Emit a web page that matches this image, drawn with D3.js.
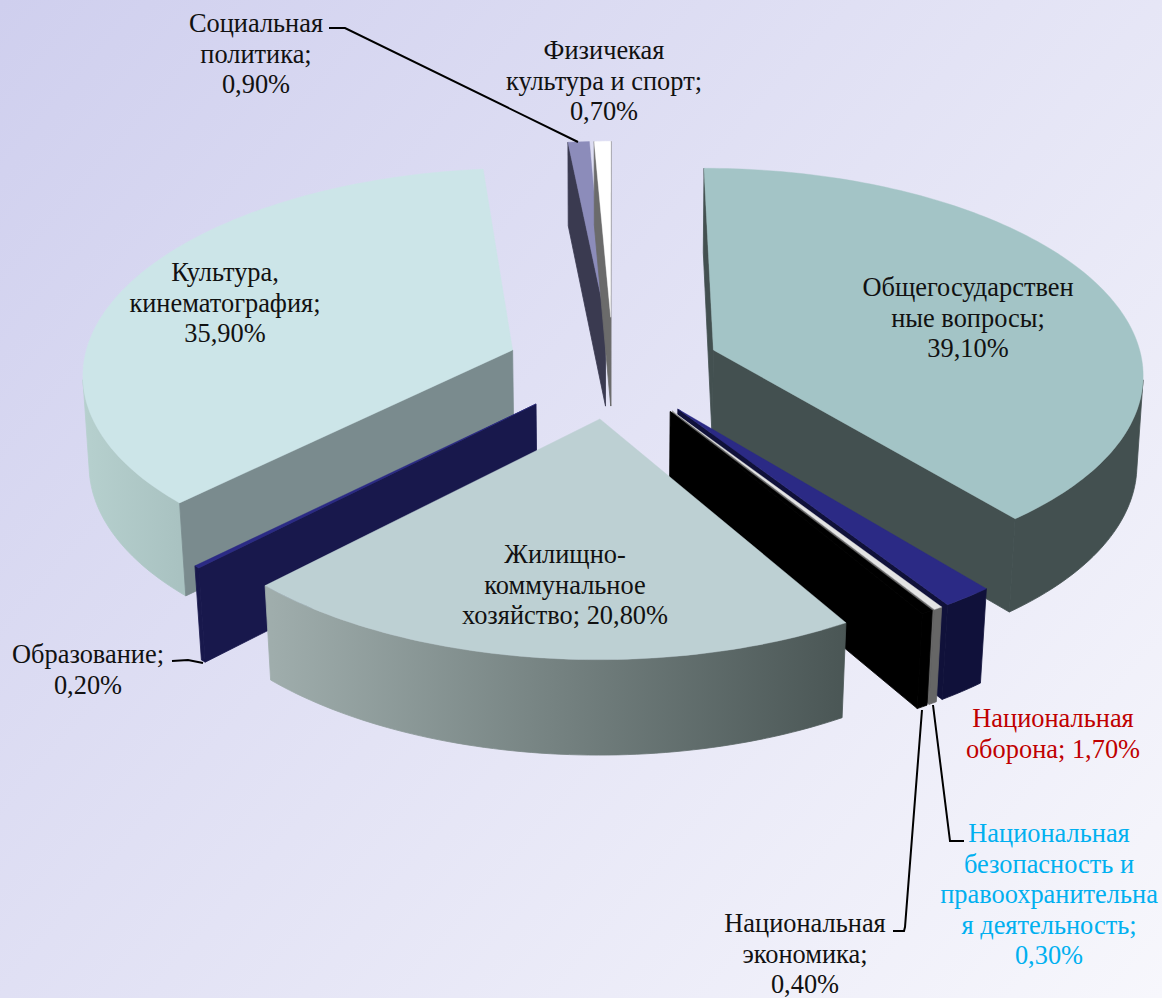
<!DOCTYPE html>
<html lang="ru">
<head>
<meta charset="utf-8">
<script src="https://cdn.jsdelivr.net/npm/d3@7"></script>
<style>
html,body{margin:0;padding:0;background:#fff}
svg{display:block}
text{font-family:"Liberation Serif","Times New Roman",serif;font-size:26.4px;text-anchor:middle}
</style>
</head>
<body>
<svg id="chart" width="1162" height="998"></svg>
<script>
// ---- data, clockwise from 12 o'clock ----
const categories = ["Общегосударственные вопросы","Национальная оборона","Национальная безопасность и правоохранительная деятельность","Национальная экономика","Жилищно-коммунальное хозяйство","Образование","Культура, кинематография","Социальная политика","Физичекая культура и спорт"];
const values = [39.1,1.7,0.3,0.4,20.8,0.2,35.9,0.9,0.7];
const topColors = ["#a3c4c6","#2b2a85","#e4e4e4","#000000","#bdd0d3","#2b2a85","#cce5e8","#8c8cba","#ffffff"];
const sideColors = ["#435050","#10113a","#666666","#000000","#7a8a8a","#18184c","#7a8b8e","#3a3a50","#6b6b6b"];
const arcColorsFrom = ["#435050","#10113a","#666666","#000000","#a0aead","#18184c","#b6d0ce","#3a3a50","#6b6b6b"];
const arcColorsTo = ["#435050","#10113a","#666666","#000000","#4a5655","#18184c","#a9c2c1","#3a3a50","#6b6b6b"];
const paintOrder = [7,8,0,6,1,5,2,3,4];
const labelLines = [
  ["Общегосударствен","ные вопросы;","39,10%"],
  ["Национальная","оборона; 1,70%"],
  ["Национальная","безопасность и","правоохранительна","я деятельность;","0,30%"],
  ["Национальная","экономика;","0,40%"],
  ["Жилищно-","коммунальное","хозяйство; 20,80%"],
  ["Образование;","0,20%"],
  ["Культура,","кинематография;","35,90%"],
  ["Социальная","политика;","0,90%"],
  ["Физичекая","культура и спорт;","0,70%"]
];
const labelColors = ["#111","#c00000","#00b0f0","#111","#111","#111","#111","#111","#111"];
const labelAnchors = [[968,296],[1053,727],[1049,842],[805,932],[565,563],[88,663],[225,281],[256,32],[604,59]];
const leaders = [
  [[329,28],[345,28],[578,142]],
  [[172,661],[188,660],[203,663]],
  [[964,841],[950,841],[933,705]],
  [[893,931],[904,931],[905,927],[922,710]]
];

// ---- projection of the tilted, exploded pie ----
const explode = 0.25;
const topPlane = {x0:613,y0:367,a:430,b:204,k:0.104};
const botPlane = {x0:613,y0:457,a:425,b:209,k:0.10};
const project = (u,v,pl)=>{const w=1+pl.k*v;return [pl.x0+pl.a*u/w, pl.y0-pl.b*v/w];};
const camV = -1/topPlane.k;

const svg = d3.select("#chart");
const defs = svg.append("defs");
const bg = defs.append("linearGradient").attr("id","bg").attr("gradientUnits","userSpaceOnUse")
  .attr("x1",0).attr("y1",0).attr("x2",1162).attr("y2",998);
bg.append("stop").attr("offset",0).attr("stop-color","#cfcfee");
bg.append("stop").attr("offset",1).attr("stop-color","#f7f7fc");
svg.append("rect").attr("width",1162).attr("height",998).attr("fill","url(#bg)");

const slices = d3.pie().sort(null).value(d=>d)(values);
const line = d3.line().curve(d3.curveLinearClosed);

paintOrder.forEach(i=>{
  const s = slices[i];
  const mid = (s.startAngle+s.endAngle)/2;
  const cu = explode*Math.sin(mid), cv = explode*Math.cos(mid);
  const n = Math.max(2,Math.ceil((s.endAngle-s.startAngle)/0.02));
  const ang = d3.range(n+1).map(j=>s.startAngle+(s.endAngle-s.startAngle)*j/n);
  const rim = pl=>ang.map(t=>project(cu+Math.sin(t),cv+Math.cos(t),pl));
  const apexT = project(cu,cv,topPlane), apexB = project(cu,cv,botPlane);
  const rimT = rim(topPlane), rimB = rim(botPlane);
  const g = svg.append("g");

  // curved outer wall, only the part turned towards the viewer
  const vis = ang.map(t=>{
    const pu=cu+Math.sin(t), pv=cv+Math.cos(t);
    return Math.sin(t)*(0-pu)+Math.cos(t)*(camV-pv)>0;
  });
  const xs = rimT.filter((p,j)=>vis[j]).map(p=>p[0]);
  if(xs.length>1){
    const gid="arc"+i;
    const gr=defs.append("linearGradient").attr("id",gid).attr("gradientUnits","userSpaceOnUse")
      .attr("x1",d3.min(xs)).attr("y1",0).attr("x2",d3.max(xs)).attr("y2",0);
    gr.append("stop").attr("offset",0).attr("stop-color",arcColorsFrom[i]);
    gr.append("stop").attr("offset",1).attr("stop-color",arcColorsTo[i]);
    const a=rimT.filter((p,j)=>vis[j]), b=rimB.filter((p,j)=>vis[j]).reverse();
    g.append("path").attr("d",line(a.concat(b))).attr("fill",`url(#${gid})`)
      .attr("stroke",`url(#${gid})`).attr("stroke-width",0.8);
  }
  // flat radial faces, with a back-face test against the camera
  const faceVisible=(t,sign)=>{
    const nu=Math.sin(t+sign*Math.PI/2), nv=Math.cos(t+sign*Math.PI/2);
    return nu*(0-cu)+nv*(camV-cv)>0;
  };
  if(faceVisible(s.startAngle,-1))
    g.append("path").attr("d",line([apexT,rimT[0],rimB[0],apexB])).attr("fill",sideColors[i]).attr("stroke",sideColors[i]).attr("stroke-width",0.8);
  if(faceVisible(s.endAngle,1))
    g.append("path").attr("d",line([apexT,rimT[n],rimB[n],apexB])).attr("fill",sideColors[i]).attr("stroke",sideColors[i]).attr("stroke-width",0.8);
  // top face
  g.append("path").attr("d",line([apexT].concat(rimT))).attr("fill",topColors[i]).attr("stroke",topColors[i]).attr("stroke-width",0.4);
});

// leader lines
svg.selectAll("path.leader").data(leaders).join("path").attr("class","leader")
  .attr("d",d3.line()).attr("fill","none").attr("stroke","#000").attr("stroke-width",2);

// labels
const lineGap = 30.5;
labelLines.forEach((lines,i)=>{
  const t = svg.append("text").attr("fill",labelColors[i]);
  lines.forEach((l,j)=>t.append("tspan").attr("x",labelAnchors[i][0]).attr("y",labelAnchors[i][1]+j*lineGap).text(l));
});
</script>
</body>
</html>
